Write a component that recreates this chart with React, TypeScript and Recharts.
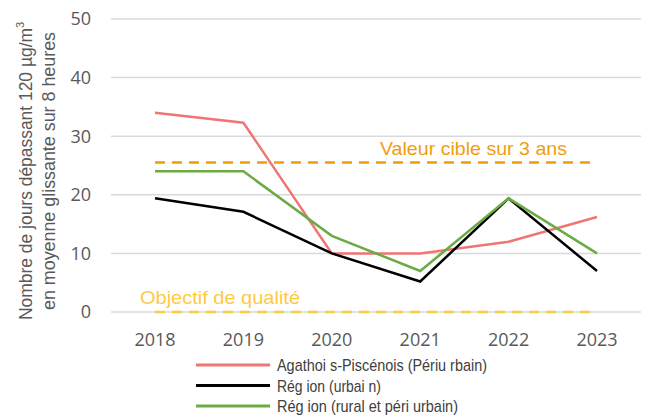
import React from "react";
import { LineChart, Line, XAxis, YAxis, CartesianGrid, ReferenceLine } from "recharts";

// values (jours de dépassement)
const years = ["2018", "2019", "2020", "2021", "2022", "2023"];
const agathois = [34, 32.3, 10, 10, 12, 16.2];
const regionUrbain = [19.4, 17.1, 10, 5.2, 19.4, 7];
const regionRural = [24, 24, 13, 7, 19.4, 10];
const yTicks = [0, 10, 20, 30, 40, 50];
const valeurCible = 25.5;
const objectifQualite = 0;

const series = [
  { key: "agathois", name: "Agathoi s-Piscénois (Périu rbain)", color: "#EE7673", len: 210 },
  { key: "urbain", name: "Rég ion (urbai n)", color: "#000000", len: 104 },
  { key: "rural", name: "Rég ion (rural et péri urbain)", color: "#6BAB43", len: 181 },
];

const data = years.map((year, i) => ({
  year,
  agathois: agathois[i],
  urbain: regionUrbain[i],
  rural: regionRural[i],
}));

const narrow = "'Liberation Sans', Arial, sans-serif";
const tickFont = "'Open Sans', 'Noto Sans', sans-serif";

// axis title, squeezed to the condensed look of the original
const YTitle = () => (
  <g fontFamily={narrow} fill="#595959">
    <text transform="translate(32, 320) rotate(-90)" fontSize={18}>
      <tspan textLength={292} lengthAdjust="spacingAndGlyphs">Nombre de jours dépassant 120 µg/m</tspan>
      <tspan fontSize={11} dy={-8}>3</tspan>
    </text>
    <text
      transform="translate(55, 310) rotate(-90)"
      fontSize={18}
      textLength={278}
      lengthAdjust="spacingAndGlyphs"
    >
      en moyenne glissante sur 8 heures
    </text>
  </g>
);

const RefLabel = ({ viewBox, text, color, dx, dy, len }: any) => (
  <text
    x={viewBox.x + dx}
    y={viewBox.y + dy}
    fill={color}
    fontFamily={narrow}
    fontSize={19}
    textLength={len}
    lengthAdjust="spacingAndGlyphs"
  >
    {text}
  </text>
);

const LegendBox = () => (
  <svg width={440} height={70} style={{ position: "absolute", left: 190, top: 352 }}>
    {series.map((s, i) => (
      <g key={s.key} transform={`translate(0, ${13 + i * 20.5})`}>
        <line x1={6} y1={0} x2={80} y2={0} stroke={s.color} strokeWidth={3} />
        <text
          x={87}
          y={6}
          fontFamily={narrow}
          fontSize={17}
          fill="#404040"
          textLength={s.len}
          lengthAdjust="spacingAndGlyphs"
        >
          {s.name}
        </text>
      </g>
    ))}
  </svg>
);

export default function App() {
  return (
    <div style={{ position: "absolute", left: 0, top: 0, width: 649, height: 417, background: "#fff" }}>
      <LineChart width={649} height={417} data={data} margin={{ top: 19, right: 8, bottom: 75, left: 0 }}>
        <CartesianGrid vertical={false} stroke="#D9D9D9" strokeWidth={1.5} />
        <XAxis
          dataKey="year"
          axisLine={false}
          tickLine={false}
          padding={{ left: 44, right: 44 }}
          tick={{ fontFamily: tickFont, fontSize: 18, fill: "#595959" }}
          tickMargin={15}
        />
        <YAxis
          width={111}
          domain={[0, 50]}
          ticks={yTicks}
          axisLine={false}
          tickLine={false}
          tickMargin={14}
          tick={{ fontFamily: tickFont, fontSize: 18, fill: "#595959" }}
        />
        <ReferenceLine
          segment={[{ x: "2018", y: valeurCible }, { x: "2023", y: valeurCible }]}
          stroke="#F39C0B"
          strokeWidth={2.5}
          strokeDasharray="10 7"
          label={<RefLabel text="Valeur cible sur 3 ans" color="#F39C0B" dx={225} dy={-8} len={187} />}
        />
        <ReferenceLine
          segment={[{ x: "2018", y: objectifQualite }, { x: "2023", y: objectifQualite }]}
          stroke="#FFC941"
          strokeWidth={2.5}
          strokeDasharray="10 7"
          label={<RefLabel text="Objectif de qualité" color="#FFC941" dx={-15} dy={-8} len={160} />}
        />
        {series.map((s) => (
          <Line
            key={s.key}
            dataKey={s.key}
            name={s.name}
            stroke={s.color}
            strokeWidth={2.5}
            dot={false}
            isAnimationActive={false}
          />
        ))}
      </LineChart>
      <svg width={70} height={417} style={{ position: "absolute", left: 0, top: 0 }}>
        <YTitle />
      </svg>
      <LegendBox />
    </div>
  );
}
